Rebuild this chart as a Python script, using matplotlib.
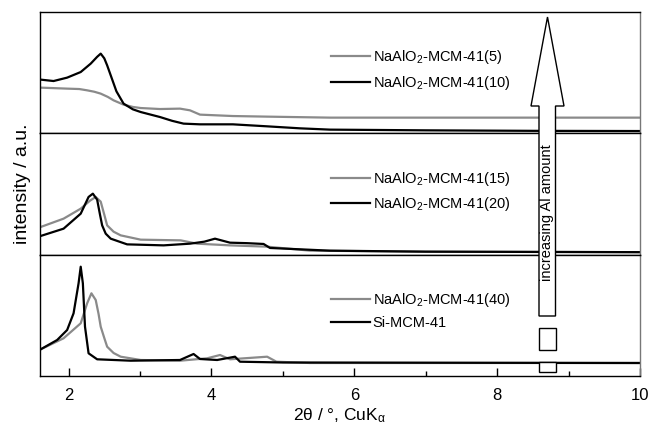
import numpy as np
import matplotlib
matplotlib.use("Agg")
import matplotlib.pyplot as plt
from matplotlib.patches import Polygon, Rectangle

plt.rcParams['font.family'] = ['Liberation Sans', 'DejaVu Sans']
plt.rcParams['mathtext.fontset'] = 'custom'
plt.rcParams['mathtext.rm'] = 'Liberation Sans'
plt.rcParams['mathtext.it'] = 'Liberation Sans:italic'

# ---------- data (arbitrary units per panel) ----------
# top panel
x_al5 = [1.61, 1.98, 2.15, 2.26, 2.36, 2.45, 2.55, 2.63, 2.77, 2.9, 3.01, 3.28, 3.56, 3.70, 3.84, 4.30, 4.78, 5.66, 7.0, 10.0]
y_al5 = [45.7, 44.7, 44.3, 43.0, 41.6, 39.7, 36.4, 33.0, 28.7, 26.4, 25.3, 24.3, 24.7, 23.0, 18.7, 17.3, 16.7, 15.7, 15.7, 15.7]
x_al10 = [1.61, 1.79, 1.98, 2.17, 2.31, 2.40, 2.45, 2.50, 2.54, 2.60, 2.67, 2.77, 2.90, 3.01, 3.28, 3.45, 3.61, 3.84, 4.30, 4.78, 5.24, 5.66, 7.0, 8.5, 10.0]
y_al10 = [53.7, 52.3, 55.7, 61.3, 69.7, 76.5, 79.7, 75.0, 68.0, 56.0, 42.0, 29.7, 24.0, 21.3, 16.3, 12.5, 9.7, 9.0, 9.0, 7.0, 5.0, 3.7, 3.0, 2.5, 2.3]

# middle panel
x_al15 = [1.61, 1.93, 2.17, 2.30, 2.38, 2.45, 2.50, 2.54, 2.63, 2.73, 3.01, 3.57, 3.80, 4.26, 4.78, 5.38, 7.0, 10.0]
y_al15 = [27.7, 36.0, 46.0, 54.0, 57.7, 53.0, 40.0, 29.3, 23.0, 19.3, 15.0, 14.3, 11.0, 9.3, 8.0, 4.0, 3.0, 2.5]
x_al20 = [1.61, 1.93, 2.17, 2.28, 2.34, 2.40, 2.44, 2.47, 2.52, 2.59, 2.82, 3.33, 3.70, 3.90, 4.05, 4.26, 4.50, 4.73, 4.82, 5.66, 7.0, 10.0]
y_al20 = [18.7, 26.0, 41.0, 57.7, 61.0, 55.0, 40.0, 29.3, 21.0, 16.0, 10.3, 9.3, 11.0, 13.0, 16.0, 12.0, 11.5, 10.7, 6.7, 4.0, 3.0, 2.5]

# bottom panel
x_al40 = [1.61, 1.93, 2.17, 2.26, 2.32, 2.38, 2.42, 2.45, 2.50, 2.54, 2.63, 2.73, 3.01, 3.56, 3.94, 4.12, 4.26, 4.78, 4.91, 5.38, 10.0]
y_al40 = [26.7, 37.7, 52.7, 72.7, 82.7, 76.0, 62.0, 49.3, 38.0, 29.3, 23.0, 19.3, 16.0, 15.3, 17.7, 21.0, 16.7, 19.3, 14.3, 13.0, 13.0]
x_si = [1.61, 1.84, 1.98, 2.07, 2.14, 2.17, 2.20, 2.23, 2.28, 2.40, 2.87, 3.56, 3.75, 3.84, 4.08, 4.33, 4.40, 5.0, 10.0]
y_si = [26.7, 36.0, 46.0, 62.7, 92.7, 109.3, 92.7, 49.3, 22.7, 16.7, 15.3, 16.0, 22.0, 17.0, 16.0, 19.3, 14.3, 13.5, 13.0]

panels = [
    (x_al5, y_al5, 'NaAlO$_2$-MCM-41(5)', x_al10, y_al10, 'NaAlO$_2$-MCM-41(10)'),
    (x_al15, y_al15, 'NaAlO$_2$-MCM-41(15)', x_al20, y_al20, 'NaAlO$_2$-MCM-41(20)'),
    (x_al40, y_al40, 'NaAlO$_2$-MCM-41(40)', x_si, y_si, 'Si-MCM-41'),
]

GRAY = '#8a8a8a'
W, H = 651, 424
fig = plt.figure(figsize=(W / 100, H / 100), dpi=100)

left, right, top, bottom = 40, 640, 12, 376
ph = (bottom - top) / 3
axes = []
for i, (xg, yg, lg, xb, yb, lb) in enumerate(panels):
    y0 = top + i * ph
    ax = fig.add_axes([left / W, 1 - (y0 + ph) / H, (right - left) / W, ph / H])
    ax.plot(xg, yg, color=GRAY, lw=1.6, label=lg)
    ax.plot(xb, yb, color='black', lw=1.6, label=lb)
    ax.set_xlim(1.6, 10)
    ax.set_ylim(0, ph)
    ax.set_yticks([])
    ax.set_xticks([2, 4, 6, 8, 10])
    ax.set_xticks([3, 5, 7, 9], minor=True)
    ax.tick_params(axis='x', which='major', direction='in', length=6, width=1, labelsize=12, pad=9)
    ax.tick_params(axis='x', which='minor', direction='in', length=3.5, width=1)
    for s in ax.spines.values():
        s.set_linewidth(1.0)
    ax.spines['right'].set_color('#777777')
    ax.legend(loc='upper left', bbox_to_anchor=(0.485, 0.70), frameon=False,
              fontsize=10.5, handlelength=2.7, handletextpad=0.15, labelspacing=0.5,
              borderaxespad=0, borderpad=0)
    if i < 2:
        ax.tick_params(axis='x', which='both', bottom=False, labelbottom=False)
    axes.append(ax)

axes[-1].set_xlabel(r'2θ / °, CuK$_{\mathrm{\alpha}}$', fontsize=12.5, labelpad=2)
fig.text(23 / W, 1 - 184 / H, 'intensity / a.u.', rotation=90, ha='center', va='center', fontsize=14)

# overlay in pixel coordinates for the arrow annotation
ov = fig.add_axes([0, 0, 1, 1])
ov.set_xlim(0, W)
ov.set_ylim(H, 0)
ov.axis('off')
arrow = Polygon([(547.5, 17), (564, 106), (555.5, 106), (555.5, 316), (539, 316),
                 (539, 106), (531, 106)], closed=True, facecolor='white',
                edgecolor='black', lw=1.0)
ov.add_patch(arrow)
ov.add_patch(Rectangle((539, 328), 16.5, 21.5, facecolor='white', edgecolor='black', lw=1.0))
ov.add_patch(Rectangle((539, 361.5), 16.5, 10, facecolor='white', edgecolor='black', lw=1.0))
ov.text(547.5, 213, 'increasing Al amount', rotation=90, ha='center', va='center', fontsize=10.5)

fig.savefig('out.png', dpi=100)
